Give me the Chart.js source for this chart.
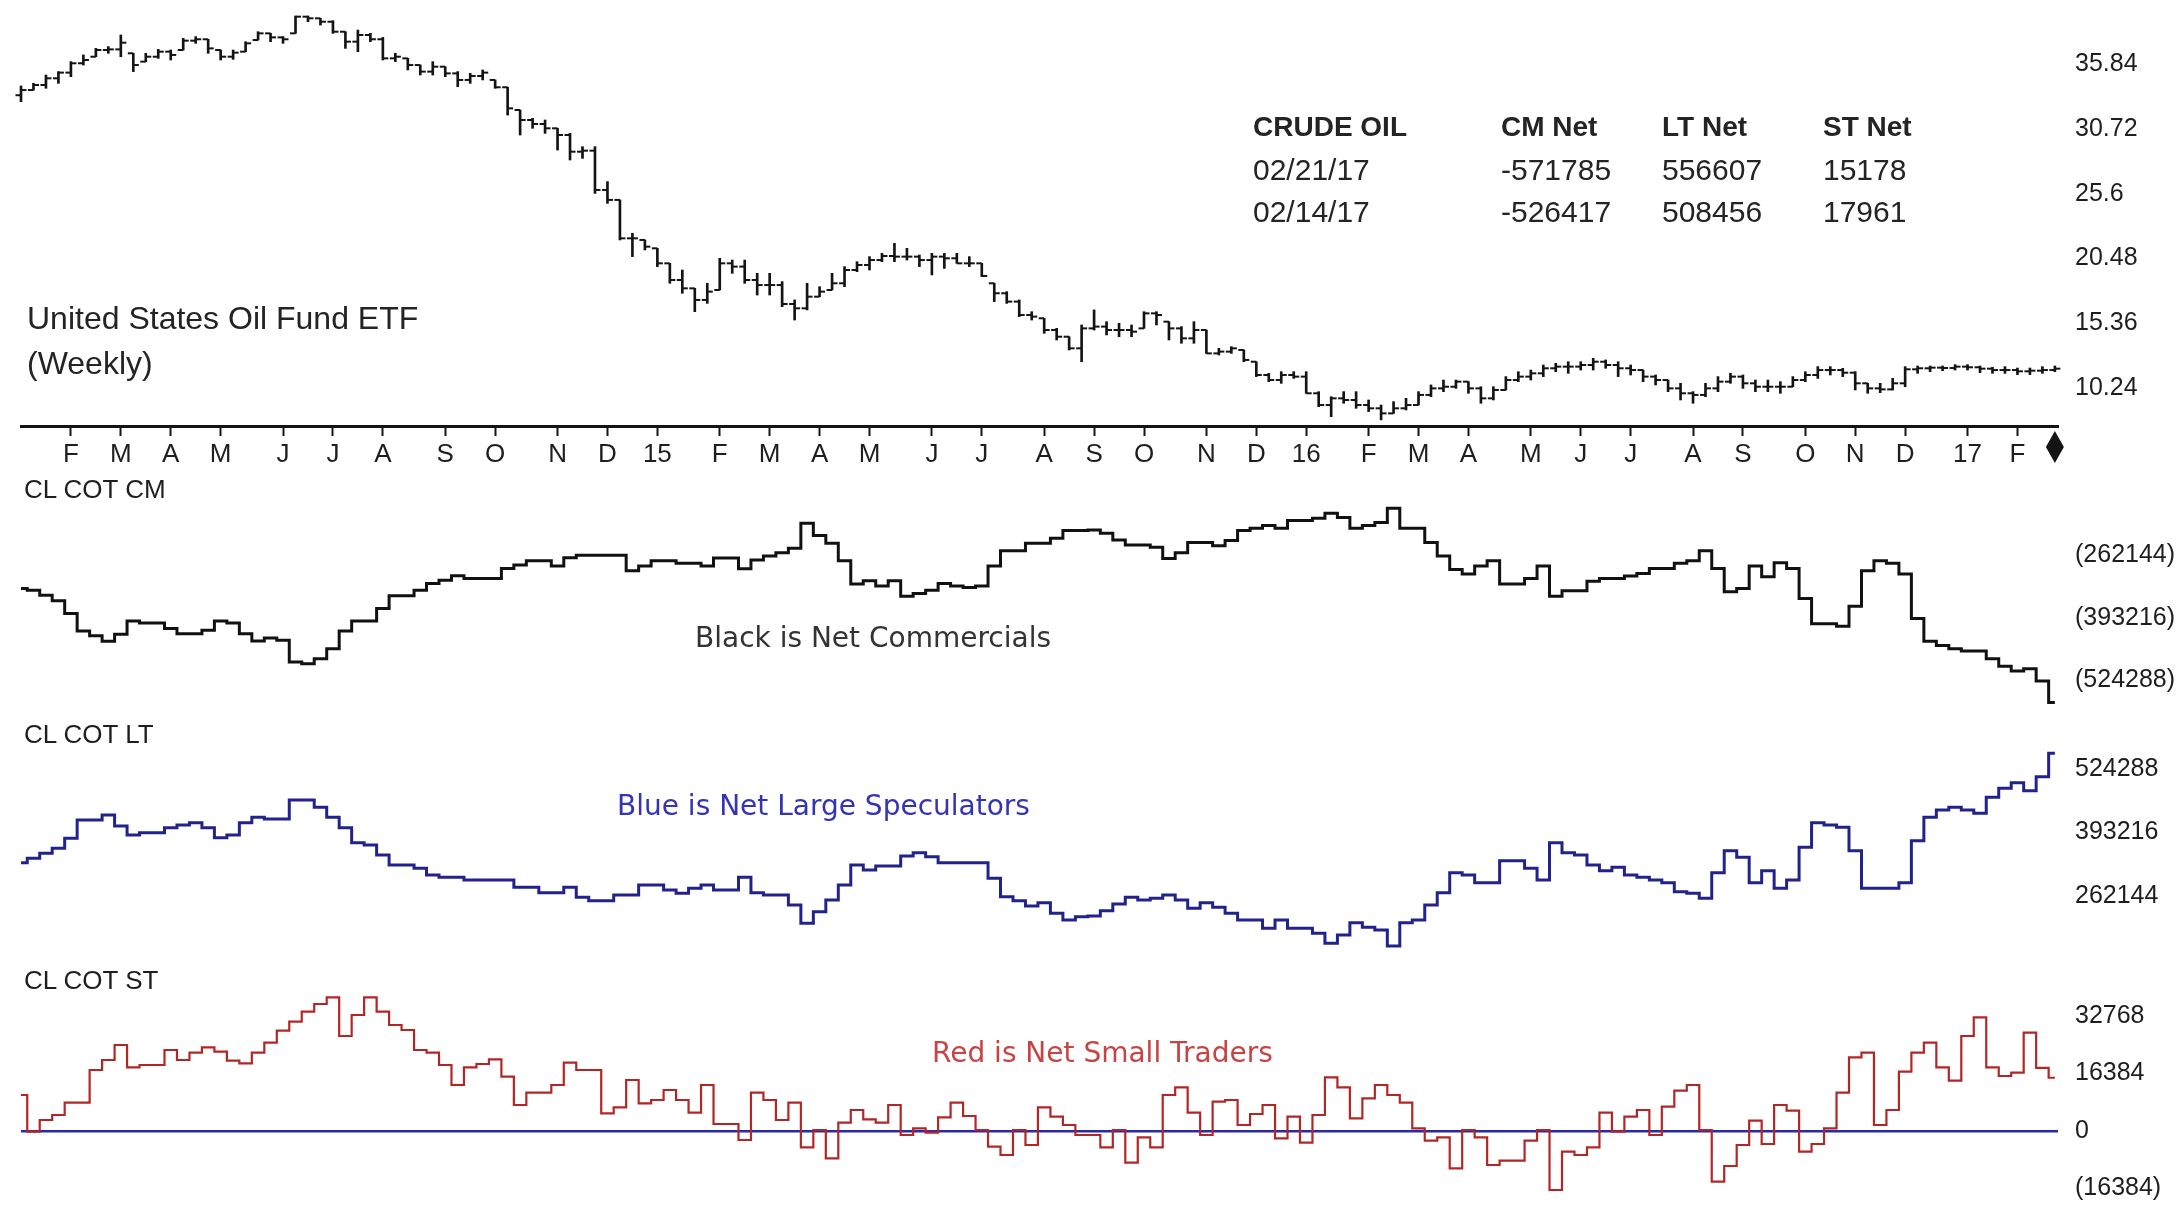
<!DOCTYPE html>
<html lang="en">
<head>
<meta charset="utf-8">
<title>Crude Oil COT vs United States Oil Fund (Weekly)</title>
<script src="https://cdn.jsdelivr.net/npm/chart.js@4.4.1/dist/chart.umd.min.js"></script>
<style>
  html, body { margin: 0; padding: 0; background: #ffffff; }
  #board { position: relative; width: 2179px; height: 1208px; overflow: hidden; background: #ffffff; }
  #board canvas { position: absolute; left: 0; }
  .lbl { position: absolute; white-space: nowrap; line-height: 1; z-index: 2;
         font-family: 'Liberation Sans', Arial, sans-serif; color: #242424; }
  .title { font-size: 32px; }
  .hdr { font-size: 28px; font-weight: bold; }
  .cell { font-size: 30px; }
  .panel { font-size: 26px; color: #1e1e1e; }
  .note { font-family: 'DejaVu Sans', Verdana, sans-serif; font-size: 28px; }
</style>
</head>
<body>
<div id="board">
  <canvas id="pricePanel" width="2179" height="480" style="top:0px"></canvas>
  <canvas id="cmPanel" width="2179" height="240" style="top:480px"></canvas>
  <canvas id="ltPanel" width="2179" height="240" style="top:720px"></canvas>
  <canvas id="stPanel" width="2179" height="248" style="top:960px"></canvas>

  <div class="lbl title" style="left:27px;top:302px">United States Oil Fund ETF</div>
  <div class="lbl title" style="left:27px;top:347px">(Weekly)</div>

  <div class="lbl hdr" style="left:1253px;top:113px">CRUDE OIL</div>
  <div class="lbl hdr" style="left:1501px;top:113px">CM Net</div>
  <div class="lbl hdr" style="left:1662px;top:113px">LT Net</div>
  <div class="lbl hdr" style="left:1823px;top:113px">ST Net</div>
  <div class="lbl cell" id="r0d" style="left:1253px;top:155px"></div>
  <div class="lbl cell" id="r0c" style="left:1501px;top:155px"></div>
  <div class="lbl cell" id="r0l" style="left:1662px;top:155px"></div>
  <div class="lbl cell" id="r0s" style="left:1823px;top:155px"></div>
  <div class="lbl cell" id="r1d" style="left:1253px;top:197px"></div>
  <div class="lbl cell" id="r1c" style="left:1501px;top:197px"></div>
  <div class="lbl cell" id="r1l" style="left:1662px;top:197px"></div>
  <div class="lbl cell" id="r1s" style="left:1823px;top:197px"></div>

  <div class="lbl panel" style="left:24px;top:476px">CL COT CM</div>
  <div class="lbl panel" style="left:24px;top:721px">CL COT LT</div>
  <div class="lbl panel" style="left:24px;top:967px">CL COT ST</div>

  <div class="lbl note" style="left:695px;top:624px;color:#333333">Black is Net Commercials</div>
  <div class="lbl note" style="left:617px;top:792px;color:#3434b4">Blue is Net Large Speculators</div>
  <div class="lbl note" style="left:932px;top:1039px;color:#c84444">Red is Net Small Traders</div>
</div>

<script>
// ---------- weekly calendar (week-ending Fridays) ----------
const FIRST_WEEK = Date.UTC(2014, 0, 10);
const WEEK_COUNT = 164;
const MONTH_LETTERS = ['J','F','M','A','M','J','J','A','S','O','N','D'];
const REPORT_DATES = ['02/21/17', '02/14/17'];

// ---------- USO weekly bars ----------
const priceOpen = [
  33.40, 33.81, 34.21, 34.74, 35.19, 35.93, 36.45, 36.98, 37.03, 36.72,
  36.06, 36.45, 36.85, 36.98, 37.72, 37.83, 36.98, 36.45, 36.85, 37.77,
  38.30, 37.98, 38.30, 39.62, 39.49, 39.22, 38.43, 37.64, 38.17, 37.83,
  36.32, 36.32, 35.79, 35.27, 35.66, 35.13, 34.61, 34.92, 34.61, 34.03,
  32.23, 31.44, 31.12, 30.78, 30.25, 28.93, 29.01, 25.90, 25.11, 22.07,
  21.94, 21.28, 20.09, 18.77, 18.11, 17.19, 17.98, 20.09, 19.83, 18.77,
  18.37, 18.37, 16.87, 16.53, 17.45, 17.98, 18.51, 19.56, 19.96, 20.35,
  20.67, 20.62, 20.62, 20.35, 20.62, 20.49, 20.09, 20.09, 18.51, 17.72,
  17.06, 16.00, 15.74, 14.81, 14.28, 13.36, 14.94, 15.08, 14.81, 14.81,
  14.94, 16.13, 15.47, 14.94, 14.15, 14.81, 12.96, 13.10, 13.23, 12.30,
  11.25, 10.85, 11.25, 11.12, 9.80, 8.87, 9.40, 9.27, 8.87, 8.61,
  8.21, 8.61, 8.87, 9.67, 10.19, 10.32, 10.72, 10.19, 9.40, 10.06,
  10.85, 11.12, 11.38, 11.78, 11.91, 11.91, 12.04, 12.30, 12.04, 11.78,
  11.64, 11.12, 10.85, 10.19, 9.80, 9.67, 10.19, 10.72, 11.12, 10.59,
  10.32, 10.32, 10.32, 10.85, 11.25, 11.64, 11.64, 11.43, 10.59, 10.19,
  10.11, 10.59, 11.70, 11.78, 11.83, 11.80, 11.91, 11.86, 11.75, 11.64,
  11.64, 11.54, 11.59, 11.64
];
const priceHigh = [
  34.13, 34.34, 35.00, 35.27, 36.06, 36.59, 37.11, 37.25, 38.17, 36.72,
  36.72, 37.03, 36.98, 37.90, 38.04, 37.83, 36.98, 36.98, 37.64, 38.43,
  38.30, 38.04, 39.67, 39.67, 39.49, 39.30, 38.43, 38.56, 38.30, 37.98,
  36.72, 36.32, 35.79, 36.06, 35.66, 35.27, 35.13, 35.40, 34.61, 34.03,
  32.23, 31.57, 31.44, 30.78, 30.38, 29.33, 29.33, 26.56, 25.11, 22.47,
  21.94, 21.28, 20.09, 19.56, 18.11, 18.51, 20.49, 20.35, 20.35, 19.30,
  19.30, 18.64, 17.19, 18.51, 18.24, 19.30, 19.83, 20.22, 20.62, 20.88,
  21.67, 21.28, 20.75, 20.88, 20.88, 20.88, 20.62, 20.09, 18.51, 17.85,
  17.19, 16.26, 15.74, 14.94, 14.28, 15.21, 16.40, 15.47, 15.34, 15.21,
  16.26, 16.26, 15.47, 15.08, 15.47, 14.81, 13.36, 13.49, 13.23, 12.30,
  11.38, 11.51, 11.51, 11.51, 9.93, 9.53, 9.93, 9.93, 9.27, 8.87,
  9.14, 9.40, 9.93, 10.46, 10.85, 10.85, 10.72, 10.32, 10.32, 11.12,
  11.51, 11.64, 12.04, 12.17, 12.30, 12.30, 12.57, 12.44, 12.30, 12.04,
  11.64, 11.25, 10.85, 10.59, 9.93, 10.59, 11.12, 11.38, 11.25, 10.85,
  10.85, 10.72, 11.12, 11.51, 11.91, 11.91, 11.78, 11.51, 10.59, 10.59,
  10.98, 11.91, 11.96, 11.96, 11.96, 12.07, 12.07, 11.96, 11.86, 11.91,
  11.80, 11.80, 11.91, 11.96
];
const priceLow = [
  32.89, 33.81, 33.95, 34.34, 34.87, 35.79, 36.45, 36.72, 36.45, 35.27,
  36.06, 36.32, 36.19, 36.98, 37.51, 36.72, 36.19, 36.24, 36.85, 37.77,
  37.64, 37.51, 38.30, 39.22, 38.96, 38.30, 37.11, 36.85, 37.64, 36.19,
  36.06, 35.40, 35.00, 35.00, 34.87, 34.08, 34.34, 34.61, 33.95, 31.83,
  30.25, 30.78, 30.38, 29.06, 28.27, 28.40, 25.63, 24.84, 21.94, 20.62,
  21.15, 19.83, 18.51, 17.72, 16.26, 16.92, 17.98, 19.30, 18.51, 17.58,
  17.58, 16.66, 15.60, 16.40, 17.45, 17.98, 18.24, 19.43, 19.56, 20.22,
  20.22, 20.35, 19.83, 19.17, 19.69, 20.09, 19.83, 19.04, 17.06, 16.92,
  15.87, 15.60, 14.55, 14.02, 13.23, 12.30, 14.81, 14.42, 14.28, 14.28,
  14.94, 15.21, 14.02, 13.76, 13.76, 12.96, 12.83, 12.96, 12.30, 11.12,
  10.72, 10.59, 10.98, 9.80, 8.74, 7.95, 9.01, 8.61, 8.35, 7.69,
  8.21, 8.48, 8.87, 9.53, 9.93, 10.19, 9.80, 9.01, 9.27, 10.06,
  10.72, 10.85, 11.12, 11.51, 11.38, 11.64, 11.64, 11.78, 11.12, 11.25,
  10.72, 10.46, 9.93, 9.27, 9.01, 9.53, 9.93, 10.59, 10.19, 9.93,
  9.93, 9.80, 10.32, 10.72, 10.98, 11.25, 11.12, 10.06, 9.80, 9.85,
  10.06, 10.32, 11.38, 11.51, 11.59, 11.64, 11.64, 11.43, 11.38, 11.38,
  11.28, 11.28, 11.38, 11.51
];
const priceClose = [
  33.81, 34.21, 34.74, 35.19, 35.93, 36.19, 36.98, 37.03, 37.56, 35.79,
  36.45, 36.85, 36.59, 37.72, 37.83, 37.11, 36.45, 36.77, 37.51, 38.30,
  37.98, 37.83, 39.62, 39.49, 39.22, 38.43, 37.64, 38.17, 37.83, 36.32,
  36.45, 35.79, 35.27, 35.66, 35.13, 34.61, 34.92, 35.19, 34.03, 32.36,
  31.44, 31.12, 30.78, 30.25, 28.93, 29.01, 25.90, 25.11, 22.07, 22.07,
  21.41, 20.09, 18.77, 18.11, 17.19, 17.85, 20.09, 19.83, 18.77, 18.37,
  18.37, 16.87, 16.53, 17.45, 17.85, 18.51, 19.56, 19.96, 20.35, 20.67,
  20.62, 20.62, 20.35, 20.62, 20.49, 20.09, 20.09, 19.09, 17.72, 17.06,
  16.00, 15.87, 14.81, 14.28, 13.36, 14.94, 15.08, 14.81, 14.81, 14.68,
  16.13, 16.00, 14.94, 14.15, 14.81, 12.96, 13.10, 13.36, 12.44, 11.25,
  10.85, 11.25, 11.12, 9.80, 8.87, 9.40, 9.27, 8.87, 8.61, 8.21,
  8.61, 8.87, 9.67, 10.19, 10.32, 10.72, 10.19, 9.40, 10.06, 10.85,
  11.12, 11.38, 11.78, 11.91, 11.91, 12.04, 12.30, 12.04, 11.78, 11.64,
  11.12, 10.85, 10.19, 9.80, 9.67, 10.19, 10.72, 11.12, 10.59, 10.32,
  10.32, 10.32, 10.85, 11.25, 11.64, 11.64, 11.43, 10.59, 10.19, 10.11,
  10.59, 11.70, 11.78, 11.83, 11.80, 11.91, 11.86, 11.75, 11.64, 11.64,
  11.54, 11.59, 11.64, 11.75
];

// ---------- CFTC net positions, crude oil ----------
const cmNet = [
  -331600, -335100, -345700, -357600, -384400, -421100, -430900, -442900, -428100, -399900,
  -404200, -404200, -416100, -426700, -426700, -419700, -399900, -404200, -426700, -442200,
  -435900, -440800, -486600, -490100, -479600, -458400, -421100, -399900, -399900, -373900,
  -347100, -347100, -335100, -321000, -314000, -304800, -310400, -310400, -310400, -289300,
  -282200, -273100, -273100, -284400, -266700, -261800, -261800, -261800, -261800, -294200,
  -284400, -273100, -273100, -278700, -278700, -284400, -267400, -267400, -290000, -271700,
  -263200, -256200, -247000, -194200, -220200, -236400, -273100, -322400, -315400, -326600,
  -315400, -347800, -342100, -335100, -321000, -326600, -329500, -326600, -284400, -251900,
  -251900, -236400, -236400, -225900, -209700, -209700, -208300, -215300, -229400, -240000,
  -240000, -244900, -268200, -256200, -235000, -235000, -241400, -230800, -209700, -204700,
  -199100, -204700, -188500, -188500, -183600, -173000, -182200, -204700, -199100, -192700,
  -162400, -204700, -204700, -235000, -263200, -291400, -301300, -284400, -273100, -322400,
  -322400, -310400, -284400, -347800, -336500, -336500, -316100, -310400, -310400, -305500,
  -299900, -289300, -289300, -278700, -273100, -251900, -289300, -338600, -331600, -284400,
  -306900, -277300, -289300, -352700, -405600, -405600, -411200, -368900, -294200, -273100,
  -278700, -301300, -395000, -442900, -451400, -458400, -463400, -463400, -479600, -495100,
  -505600, -500700, -526417, -571785
];
const ltNet = [
  330960, 339900, 350224, 360544, 381184, 419024, 419024, 429344, 406640, 388064,
  392880, 392880, 403200, 408704, 413520, 403200, 382560, 388064, 413520, 424528,
  421088, 421088, 460304, 460304, 445168, 424528, 403200, 372240, 367424, 346784,
  326144, 326144, 319264, 305504, 300688, 300688, 295184, 295184, 295184, 295184,
  280048, 280048, 269040, 269040, 280048, 259408, 252528, 252528, 264224, 264224,
  284864, 284864, 274544, 267664, 277984, 284864, 274544, 274544, 300688, 269040,
  264224, 264224, 243584, 205744, 229824, 253904, 284864, 326144, 315824, 324080,
  324080, 344720, 351600, 343344, 330960, 330960, 330960, 330960, 298624, 260784,
  252528, 241520, 248400, 226384, 212624, 219504, 220880, 231888, 245648, 259408,
  253904, 257344, 264224, 253904, 236704, 248400, 238768, 226384, 212624, 212624,
  195424, 212624, 195424, 195424, 185104, 164464, 181664, 207120, 197488, 192000,
  158960, 207120, 212624, 243584, 269040, 310320, 305504, 289680, 289680, 335088,
  335088, 319264, 295184, 372240, 351600, 346784, 326144, 314448, 321328, 305504,
  300688, 295184, 289680, 271168, 267664, 257344, 310320, 355728, 341968, 289680,
  314448, 277984, 295184, 362608, 413520, 408704, 403888, 355728, 277984, 277984,
  277984, 289680, 376368, 424528, 439664, 445168, 439664, 432784, 465808, 484384,
  496080, 479568, 508456, 556607
];
const stNet = [
  10255, -192, 3132, 4557, 8071, 8071, 17378, 20227, 24501, 18138,
  18802, 18802, 23076, 20227, 22316, 23836, 22601, 20037, 19277, 22316,
  25165, 28584, 31148, 33998, 36182, 38081, 27065, 33048, 38081, 33998,
  30199, 28774, 23076, 22316, 18802, 13104, 18138, 19087, 20417, 15478,
  7406, 10920, 10920, 13104, 19467, 17378, 17378, 5032, 6741, 14529,
  7881, 8830, 11680, 8830, 5222, 13104, 1993, 1993, -2566, 10920,
  8830, 3132, 8071, -4655, 283, -7789, 2373, 5981, 3322, 2373,
  7406, -1141, 758, -477, 3892, 8071, 4272, 283, -4465, -6840,
  283, -3990, 6741, 4082, 1708, -1141, -1141, -4655, 283, -9026,
  -1806, -4655, 10255, 12439, 5222, -1141, 8356, 8830, 1708, 4842,
  7406, -2091, 4082, -3326, 4557, 15288, 12439, 3607, 9305, 13104,
  10255, 8071, 758, -2756, -1806, -10638, 283, -1806, -9689, -8455,
  -8455, -2756, 283, -16811, -5890, -6840, -4655, 5222, -192, 4082,
  5981, -1141, 6931, 11490, 13104, 283, -14437, -9974, -3990, 2942,
  -3706, 7406, 5791, -5890, -3706, 758, 10920, 20987, 22316, 1708,
  5981, 16903, 22316, 25165, 18138, 14339, 27065, 32383, 18138, 15668,
  16618, 28014, 17961, 15178
];

// ---------- axis tick values ----------
const PRICE_TICKS = [10.24, 15.36, 20.48, 25.6, 30.72, 35.84];
const CM_TICKS = [-262144, -393216, -524288];
const LT_TICKS = [262144, 393216, 524288];
const ST_TICKS = [-16384, 0, 16384, 32768];

// ---------- derived calendar ticks ----------
const weekDates = Array.from({ length: WEEK_COUNT }, (_, i) => new Date(FIRST_WEEK + i * 7 * 86400000));
const weekIdx = weekDates.map((_, i) => i);
const monthTicks = [];
const monthTickLabels = [];
weekDates.forEach((d, i) => {
  if (i > 0 && d.getUTCMonth() !== weekDates[i - 1].getUTCMonth()) {
    monthTicks.push(i);
    monthTickLabels.push(d.getUTCMonth() === 0 ? String(d.getUTCFullYear()).slice(2) : MONTH_LETTERS[d.getUTCMonth()]);
  }
});

// ---------- shared styling ----------
const INK = '#141414';
const AXIS_FONT = "'Liberation Sans', Arial, sans-serif";
const LEFT_PAD = 21;
const RIGHT_AXIS_WIDTH = 121;
const X_MAX = WEEK_COUNT - 0.75;
const TICK_SHIFT = 0.22;   // open/close tick offset, in weeks
const TICK_ARM = 2.75;     // half length of open/close tick, px

const fmtNet = v => (v < 0 ? '(' + (-v) + ')' : String(v));

function hiddenX() {
  return { type: 'linear', min: 0, max: X_MAX, offset: false, display: false };
}
function rightAxis(min, max, ticks, zeroLine, fmt) {
  return {
    type: 'linear', position: 'right', min, max,
    afterBuildTicks: s => { s.ticks = ticks.map(v => ({ value: v })); },
    // keep the plot area at a fixed size: fixed axis width, no label overhang padding
    afterFit: s => { s.width = RIGHT_AXIS_WIDTH; s.paddingTop = 0; s.paddingBottom = 0; },
    border: { display: false },
    grid: zeroLine
      ? { display: true, drawOnChartArea: true, drawTicks: false, lineWidth: 2.5,
          color: c => (c.tick && c.tick.value === 0 ? zeroLine : 'rgba(0,0,0,0)') }
      : { display: false, drawTicks: false },
    ticks: { padding: 17, color: '#1e1e1e', autoSkip: false,
             font: { family: AXIS_FONT, size: 25 }, callback: fmt || (v => fmtNet(v)) }
  };
}
function baseOptions(scales) {
  return {
    responsive: false, maintainAspectRatio: false, animation: false, devicePixelRatio: 1,
    events: [],
    layout: { padding: { left: LEFT_PAD, right: 0, top: 0, bottom: 0 }, autoPadding: false },
    plugins: { legend: { display: false }, tooltip: { enabled: false }, title: { display: false } },
    scales
  };
}

// diamond that flags the latest bar under the date axis
const lastBarMarker = {
  id: 'lastBarMarker',
  afterDraw(chart) {
    const { ctx, chartArea, scales } = chart;
    const x = scales.x.getPixelForValue(WEEK_COUNT - 1);
    const top = chartArea.bottom + 5, bottom = chartArea.bottom + 37;
    const mid = (top + bottom) / 2, half = 9;
    ctx.save();
    ctx.fillStyle = INK;
    ctx.beginPath();
    ctx.moveTo(x, top); ctx.lineTo(x + half, mid); ctx.lineTo(x, bottom); ctx.lineTo(x - half, mid);
    ctx.closePath(); ctx.fill();
    ctx.restore();
  }
};

// ---------- price panel ----------
new Chart(document.getElementById('pricePanel'), {
  type: 'bar',
  data: {
    datasets: [
      { type: 'bar', data: weekIdx.map(i => ({ x: i, y: [priceLow[i], priceHigh[i]] })),
        backgroundColor: INK, borderWidth: 0, barThickness: 2, clip: false },
      { type: 'scatter', data: weekIdx.map(i => ({ x: i - TICK_SHIFT, y: priceOpen[i] })),
        pointStyle: 'line', pointRadius: TICK_ARM, pointBorderWidth: 2,
        pointBorderColor: INK, pointBackgroundColor: INK, clip: false },
      { type: 'scatter', data: weekIdx.map(i => ({ x: i + TICK_SHIFT, y: priceClose[i] })),
        pointStyle: 'line', pointRadius: TICK_ARM, pointBorderWidth: 2,
        pointBorderColor: INK, pointBackgroundColor: INK, clip: false }
    ]
  },
  options: baseOptions({
    x: {
      type: 'linear', position: 'bottom', min: 0, max: X_MAX, offset: false,
      afterBuildTicks: s => { s.ticks = monthTicks.map(v => ({ value: v })); },
      afterFit: s => { s.height = 54; s.paddingLeft = 0; s.paddingRight = 0; },
      border: { display: true, color: INK, width: 3 },
      grid: { display: true, offset: false, drawOnChartArea: false, drawTicks: true,
              tickLength: 10, tickWidth: 2, tickColor: INK },
      ticks: { autoSkip: false, maxRotation: 0, minRotation: 0, padding: 3, color: '#1e1e1e',
               font: { family: AXIS_FONT, size: 26 },
               callback: v => monthTickLabels[monthTicks.indexOf(v)] }
    },
    y: rightAxis(7.21, 40.94, PRICE_TICKS, null, v => String(v))
  }),
  plugins: [lastBarMarker]
});

// ---------- COT panels ----------
function cotPanel(id, values, color, width, yMin, yMax, ticks, zeroLine) {
  new Chart(document.getElementById(id), {
    type: 'line',
    data: { datasets: [{
      data: values.map((v, i) => ({ x: i, y: v })),
      stepped: 'middle', borderColor: color, borderWidth: width, borderJoinStyle: 'miter',
      pointRadius: 0, fill: false, clip: false, tension: 0
    }] },
    options: baseOptions({ x: hiddenX(), y: rightAxis(yMin, yMax, ticks, zeroLine) })
  });
}
cotPanel('cmPanel', cmNet, '#111111', 3, -608515, -103171, CM_TICKS, null);
cotPanel('ltPanel', ltNet, '#22228c', 3, 130045, 625429, LT_TICKS, null);
cotPanel('stPanel', stNet, '#b32626', 2.2, -21940, 48725, ST_TICKS, '#2a2aa8');

// ---------- latest two reports ----------
const last = WEEK_COUNT - 1;
[0, 1].forEach(r => {
  document.getElementById('r' + r + 'd').textContent = REPORT_DATES[r];
  document.getElementById('r' + r + 'c').textContent = String(cmNet[last - r]);
  document.getElementById('r' + r + 'l').textContent = String(ltNet[last - r]);
  document.getElementById('r' + r + 's').textContent = String(stNet[last - r]);
});
</script>
</body>
</html>
